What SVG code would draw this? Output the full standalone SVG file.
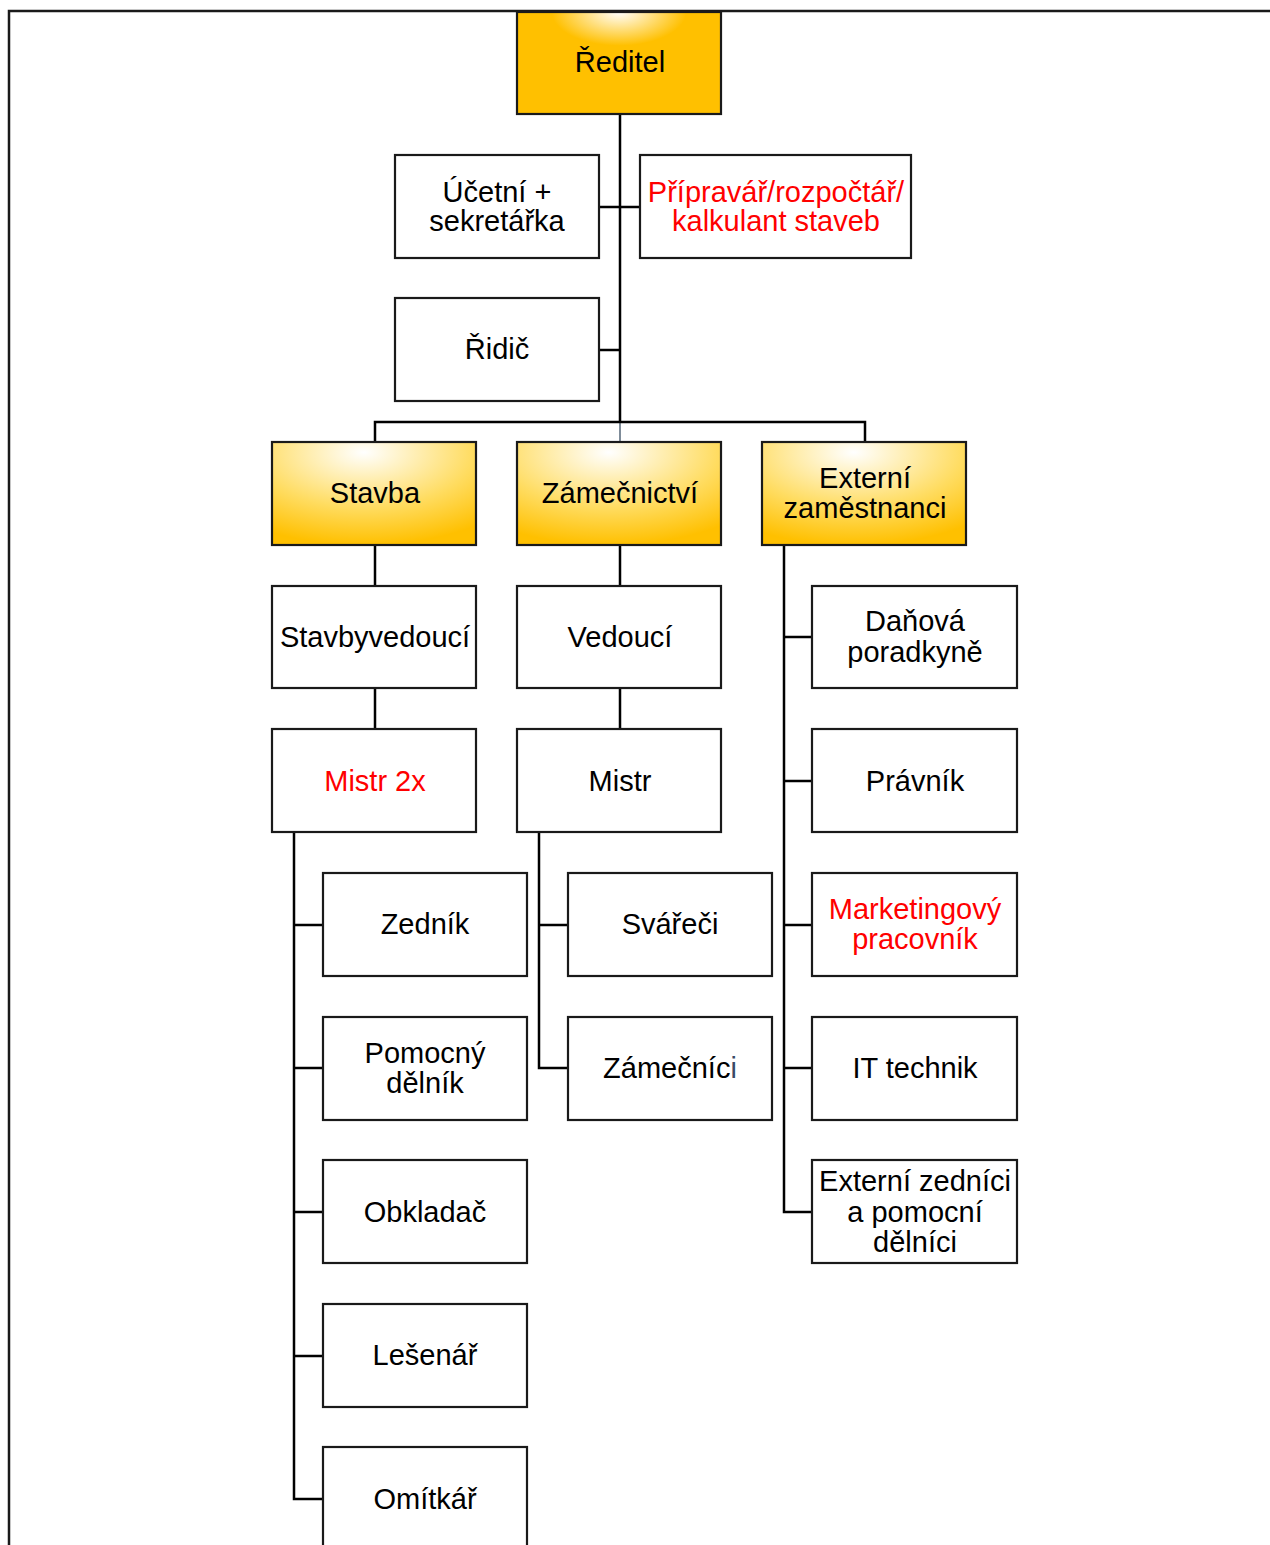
<svg xmlns="http://www.w3.org/2000/svg" width="1270" height="1545" viewBox="0 0 1270 1545">
<style>
.box{fill:#fff;stroke:#1a1a1a;stroke-width:2.2}
.gold{stroke:#1a1a1a;stroke-width:2.2}
.t{font-family:"Liberation Sans",Arial,sans-serif;font-size:29px;fill:#000;text-anchor:middle}
.red{fill:#ff0000}
.c{fill:none;stroke:#000;stroke-width:2.5}
</style>
<defs>
<radialGradient id="gTop" cx="0.5" cy="0" r="0.55" fx="0.5" fy="0">
<stop offset="0" stop-color="#ffffff"/>
<stop offset="0.6" stop-color="#ffc000"/>
<stop offset="1" stop-color="#ffc000"/>
</radialGradient>
<radialGradient id="gDiv" cx="0.45" cy="0.1" r="0.9" fx="0.45" fy="0.1">
<stop offset="0" stop-color="#ffffff"/>
<stop offset="0.6" stop-color="#ffdc60"/>
<stop offset="1" stop-color="#ffc000"/>
</radialGradient>
</defs>
<rect width="1270" height="1545" fill="#fff"/>
<path d="M9 1545 V11 H1270" fill="none" stroke="#1a1a1a" stroke-width="2.5"/>
<g id="connectors">
<path class="c" d="M620 114 V422"/>
<path d="M620 422 V442" stroke="#556677" stroke-width="1.5" fill="none"/>
<path class="c" d="M599 207 H640"/>
<path class="c" d="M599 350 H620"/>
<path class="c" d="M375 442 V422 H865 V442"/>
<path class="c" d="M375 545 V586 M375 688 V729"/>
<path class="c" d="M620 545 V586 M620 688 V729"/>
<path class="c" d="M294 832 V1499 H323 M294 925 H323 M294 1068 H323 M294 1212 H323 M294 1356 H323"/>
<path class="c" d="M539 832 V1068 H568 M539 925 H568"/>
<path class="c" d="M784 545 V1212 H812 M784 637 H812 M784 781 H812 M784 925 H812 M784 1068 H812"/>
</g>
<g id="reditel"><rect class="gold" x="517" y="12" width="204" height="102" fill="url(#gTop)"/><text class="t" x="620" y="72">Ředitel</text></g>
<g id="ucetni"><rect class="box" x="395" y="155" width="204" height="103"/><text class="t" x="497" y="202">Účetní +</text><text class="t" x="497" y="231">sekretářka</text></g>
<g id="pripravar"><rect class="box" x="640" y="155" width="271" height="103"/><text class="t red" x="776" y="202">Přípravář/rozpočtář/</text><text class="t red" x="776" y="231">kalkulant staveb</text></g>
<g id="ridic"><rect class="box" x="395" y="298" width="204" height="103"/><text class="t" x="497" y="359">Řidič</text></g>
<g id="stavba"><rect class="gold" x="272" y="442" width="204" height="103" fill="url(#gDiv)"/><text class="t" x="375" y="503">Stavba</text></g>
<g id="zamecnictvi"><rect class="gold" x="517" y="442" width="204" height="103" fill="url(#gDiv)"/><text class="t" x="620" y="503">Zámečnictví</text></g>
<g id="externi"><rect class="gold" x="762" y="442" width="204" height="103" fill="url(#gDiv)"/><text class="t" x="865" y="488">Externí</text><text class="t" x="865" y="518">zaměstnanci</text></g>
<g id="stavbyvedouci"><rect class="box" x="272" y="586" width="204" height="102"/><text class="t" x="375" y="647">Stavbyvedoucí</text></g>
<g id="vedouci"><rect class="box" x="517" y="586" width="204" height="102"/><text class="t" x="620" y="647">Vedoucí</text></g>
<g id="mistr2x"><rect class="box" x="272" y="729" width="204" height="103"/><text class="t red" x="375" y="791">Mistr 2x</text></g>
<g id="mistr"><rect class="box" x="517" y="729" width="204" height="103"/><text class="t" x="620" y="791">Mistr</text></g>
<g id="zednik"><rect class="box" x="323" y="873" width="204" height="103"/><text class="t" x="425" y="934">Zedník</text></g>
<g id="pomocny"><rect class="box" x="323" y="1017" width="204" height="103"/><text class="t" x="425" y="1063">Pomocný</text><text class="t" x="425" y="1093">dělník</text></g>
<g id="obkladac"><rect class="box" x="323" y="1160" width="204" height="103"/><text class="t" x="425" y="1222">Obkladač</text></g>
<g id="lesenar"><rect class="box" x="323" y="1304" width="204" height="103"/><text class="t" x="425" y="1365">Lešenář</text></g>
<g id="omitkar"><rect class="box" x="323" y="1447" width="204" height="110"/><text class="t" x="425" y="1509">Omítkář</text></g>
<g id="svareci"><rect class="box" x="568" y="873" width="204" height="103"/><text class="t" x="670" y="934">Svářeči</text></g>
<g id="zamecnici"><rect class="box" x="568" y="1017" width="204" height="103"/><text class="t" x="670" y="1078">Zámečníc<tspan fill="#3a4a66">i</tspan></text></g>
<g id="danova"><rect class="box" x="812" y="586" width="205" height="102"/><text class="t" x="915" y="631">Daňová</text><text class="t" x="915" y="662">poradkyně</text></g>
<g id="pravnik"><rect class="box" x="812" y="729" width="205" height="103"/><text class="t" x="915" y="791">Právník</text></g>
<g id="marketing"><rect class="box" x="812" y="873" width="205" height="103"/><text class="t red" x="915" y="919">Marketingový</text><text class="t red" x="915" y="949">pracovník</text></g>
<g id="it"><rect class="box" x="812" y="1017" width="205" height="103"/><text class="t" x="915" y="1078">IT technik</text></g>
<g id="extzednici"><rect class="box" x="812" y="1160" width="205" height="103"/><text class="t" x="915" y="1191">Externí zedníci</text><text class="t" x="915" y="1222">a pomocní</text><text class="t" x="915" y="1252">dělníci</text></g>
</svg>
